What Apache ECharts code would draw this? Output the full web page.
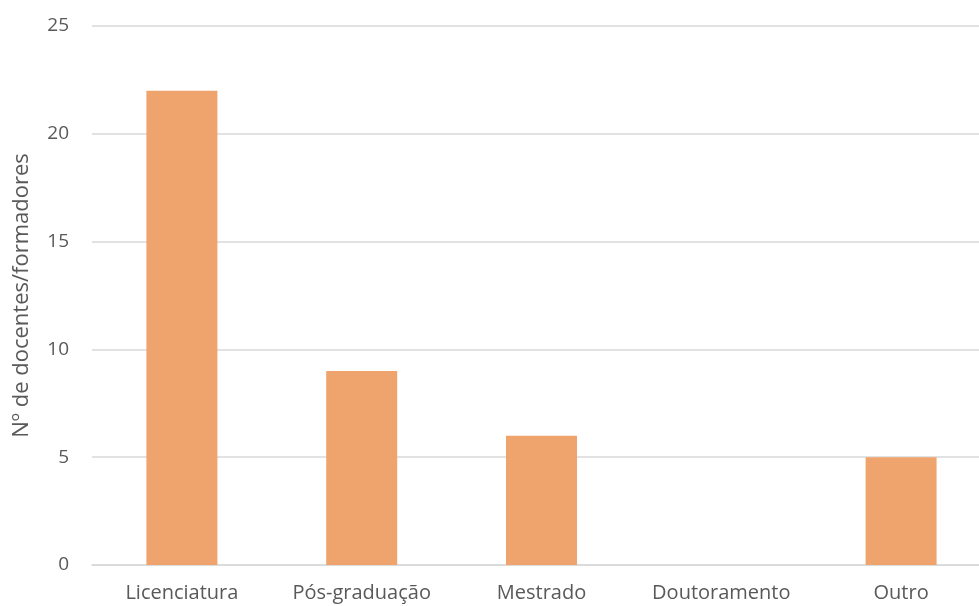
<!DOCTYPE html>
<html>
<head>
<meta charset="utf-8">
<script src="https://cdn.jsdelivr.net/npm/echarts@6/dist/echarts.min.js"></script>
<style>
html,body{margin:0;padding:0;background:#fff;overflow:hidden;}
#c{width:991px;height:606px;}
</style>
</head>
<body>
<div id="c"></div>
<script>
const categories = ['Licenciatura', 'Pós-graduação', 'Mestrado', 'Doutoramento', 'Outro'];
const values = [22, 9, 6, 0, 5];
const yTicks = { min: 0, max: 25, interval: 5 };
const yAxisName = 'Nº de docentes/formadores';

const chart = echarts.init(document.getElementById('c'), null, { renderer: 'canvas' });
chart.setOption({
  animation: false,
  backgroundColor: '#ffffff',
  grid: { left: 92, right: 0, top: 26, bottom: 41, containLabel: false },
  xAxis: {
    type: 'category',
    data: categories,
    axisLine: { show: true, lineStyle: { color: '#D9D9D9', width: 1.5 } },
    axisTick: { show: false },
    axisLabel: { color: '#595959', fontFamily: 'Open Sans', fontSize: 20, margin: 18, interval: 0, hideOverlap: false }
  },
  yAxis: {
    type: 'value',
    min: yTicks.min, max: yTicks.max, interval: yTicks.interval,
    name: yAxisName,
    nameLocation: 'middle',
    nameRotate: 90,
    nameGap: 59,
    nameTextStyle: { color: '#595959', fontFamily: 'Open Sans', fontSize: 22 },
    axisLine: { show: false },
    axisTick: { show: false },
    splitLine: { lineStyle: { color: '#D9D9D9', width: 1.5 } },
    axisLabel: { color: '#595959', fontFamily: 'Open Sans', fontSize: 19, margin: 23 }
  },
  series: [{
    type: 'bar',
    data: values,
    barWidth: 71,
    itemStyle: { color: '#F0A46D' }
  }]
});
</script>
</body>
</html>
